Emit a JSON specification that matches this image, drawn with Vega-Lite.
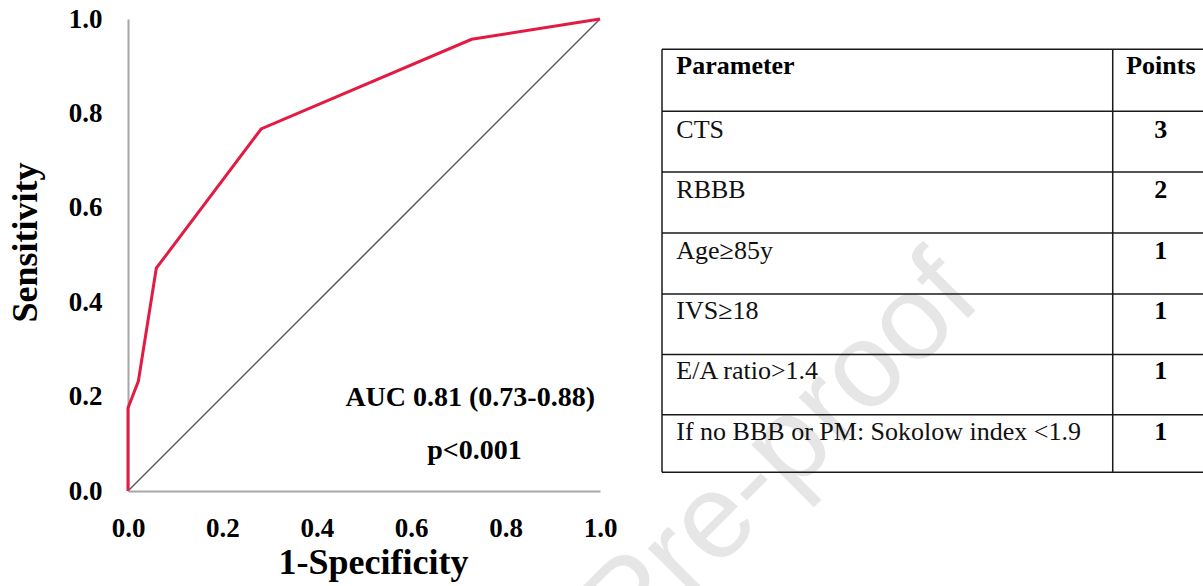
{
  "$schema": "https://vega.github.io/schema/vega-lite/v6.json",
  "background": "white",
  "padding": {"left": 7, "top": 5, "right": 0, "bottom": 0},
  "bounds": "flush",
  "spacing": 62,
  "config": {
    "view": {"stroke": null},
    "font": "Liberation Serif"
  },
  "hconcat": [
    {
      "width": 472,
      "height": 472,
      "layer": [
        {
          "data": {"values": [{"wm": "Pre-proof", "wx": 1.385, "wy": 0.08}]},
          "mark": {"type": "text", "font": "Liberation Sans", "fontSize": 120, "color": "#e6e6e6", "angle": -45, "align": "center", "baseline": "middle"},
          "encoding": {
            "x": {"field": "wx", "type": "quantitative"},
            "y": {"field": "wy", "type": "quantitative"},
            "text": {"field": "wm"}
          }
        },
        {
          "data": {"values": [{"fpr": 0, "tpr": 0}, {"fpr": 1, "tpr": 1}]},
          "mark": {"type": "line", "color": "#5a5a5a", "strokeWidth": 1.5},
          "encoding": {
            "x": {"field": "fpr", "type": "quantitative"},
            "y": {"field": "tpr", "type": "quantitative"}
          }
        },
        {
          "data": {"values": [
            {"fpr": 0, "tpr": 0},
            {"fpr": 0, "tpr": 0.176},
            {"fpr": 0.022, "tpr": 0.233},
            {"fpr": 0.060, "tpr": 0.472},
            {"fpr": 0.282, "tpr": 0.767},
            {"fpr": 0.728, "tpr": 0.957},
            {"fpr": 1, "tpr": 1}
          ]},
          "mark": {"type": "line", "color": "#e31a43", "strokeWidth": 3},
          "encoding": {
            "x": {
              "field": "fpr", "type": "quantitative",
              "scale": {"domain": [0, 1], "nice": false},
              "axis": {
                "values": [0, 0.2, 0.4, 0.6, 0.8, 1.0], "format": ".1f",
                "grid": false, "ticks": false, "tickSize": 0, "zindex": 1,
                "labelFlush": false, "labelOverlap": false,
                "domainColor": "#a6a6a6", "domainWidth": 2,
                "labelFont": "Liberation Serif", "labelFontSize": 27, "labelFontWeight": "bold", "labelColor": "#000000",
                "labelPadding": 24,
                "title": "1-Specificity", "titleFont": "Liberation Serif", "titleFontSize": 36, "titleFontWeight": "bold", "titleColor": "#000000",
                "titlePadding": 4, "titleX": 245
              }
            },
            "y": {
              "field": "tpr", "type": "quantitative",
              "scale": {"domain": [0, 1], "nice": false},
              "axis": {
                "values": [0, 0.2, 0.4, 0.6, 0.8, 1.0], "format": ".1f",
                "grid": false, "ticks": false, "tickSize": 0,
                "labelFlush": false, "labelOverlap": false,
                "domainColor": "#a6a6a6", "domainWidth": 2,
                "labelFont": "Liberation Serif", "labelFontSize": 27, "labelFontWeight": "bold", "labelColor": "#000000",
                "labelPadding": 26,
                "title": "Sensitivity", "titleFont": "Liberation Serif", "titleFontSize": 36, "titleFontWeight": "bold", "titleColor": "#000000",
                "titlePadding": 24, "titleY": 223
              }
            }
          }
        },
        {
          "data": {"values": [
            {"label": "AUC 0.81 (0.73-0.88)", "lx": 0.725, "ly": 0.197},
            {"label": "p<0.001", "lx": 0.734, "ly": 0.085}
          ]},
          "mark": {"type": "text", "font": "Liberation Serif", "fontSize": 28, "fontWeight": "bold", "color": "#000000", "align": "center", "baseline": "middle"},
          "encoding": {
            "x": {"field": "lx", "type": "quantitative"},
            "y": {"field": "ly", "type": "quantitative"},
            "text": {"field": "label"}
          }
        }
      ]
    },
    {
      "width": 550,
      "height": 472,
      "layer": [
        {
          "data": {"values": [{"b": 0}, {"b": 1.025}, {"b": 2.03}, {"b": 3.04}, {"b": 4.05}, {"b": 5.05}, {"b": 6.05}, {"b": 7}]},
          "mark": {"type": "rule", "color": "#1a1a1a", "strokeWidth": 1.5},
          "encoding": {
            "y": {"field": "b", "type": "quantitative", "scale": {"domain": [-0.5, 7.31], "nice": false, "reverse": true}, "axis": null},
            "x": {"datum": 0, "type": "quantitative", "scale": {"domain": [0, 1], "nice": false}, "axis": null},
            "x2": {"datum": 1}
          }
        },
        {
          "data": {"values": [{"c": 0}, {"c": 0.8195}]},
          "mark": {"type": "rule", "color": "#1a1a1a", "strokeWidth": 1.5},
          "encoding": {
            "x": {"field": "c", "type": "quantitative"},
            "y": {"datum": 0},
            "y2": {"datum": 7}
          }
        },
        {
          "data": {"name": "table"},
          "transform": [{"filter": "datum.row == 0"}],
          "layer": [
            {
              "mark": {"type": "text", "font": "Liberation Serif", "fontSize": 26, "fontWeight": "bold", "color": "#000000", "align": "left", "baseline": "middle", "dy": 17},
              "encoding": {
                "x": {"datum": 0.026},
                "y": {"field": "row", "type": "quantitative"},
                "text": {"field": "parameter"}
              }
            },
            {
              "mark": {"type": "text", "font": "Liberation Serif", "fontSize": 26, "fontWeight": "bold", "color": "#000000", "align": "center", "baseline": "middle", "dy": 17},
              "encoding": {
                "x": {"datum": 0.907},
                "y": {"field": "row", "type": "quantitative"},
                "text": {"field": "points"}
              }
            }
          ]
        },
        {
          "data": {"name": "table"},
          "transform": [{"filter": "datum.row > 0"}],
          "layer": [
            {
              "mark": {"type": "text", "font": "Liberation Serif", "fontSize": 26, "color": "#111111", "align": "left", "baseline": "middle", "dy": 20},
              "encoding": {
                "x": {"datum": 0.026},
                "y": {"field": "row", "type": "quantitative"},
                "text": {"field": "parameter"}
              }
            },
            {
              "mark": {"type": "text", "font": "Liberation Serif", "fontSize": 26, "fontWeight": "bold", "color": "#000000", "align": "center", "baseline": "middle", "dy": 20},
              "encoding": {
                "x": {"datum": 0.907},
                "y": {"field": "row", "type": "quantitative"},
                "text": {"field": "points"}
              }
            }
          ]
        }
      ]
    }
  ],
  "datasets": {
    "table": [
      {"row": 0, "parameter": "Parameter", "points": "Points"},
      {"row": 1, "parameter": "CTS", "points": "3"},
      {"row": 2, "parameter": "RBBB", "points": "2"},
      {"row": 3, "parameter": "Age≥85y", "points": "1"},
      {"row": 4, "parameter": "IVS≥18", "points": "1"},
      {"row": 5, "parameter": "E/A ratio>1.4", "points": "1"},
      {"row": 6, "parameter": "If no BBB or PM: Sokolow index <1.9", "points": "1"}
    ]
  }
}
